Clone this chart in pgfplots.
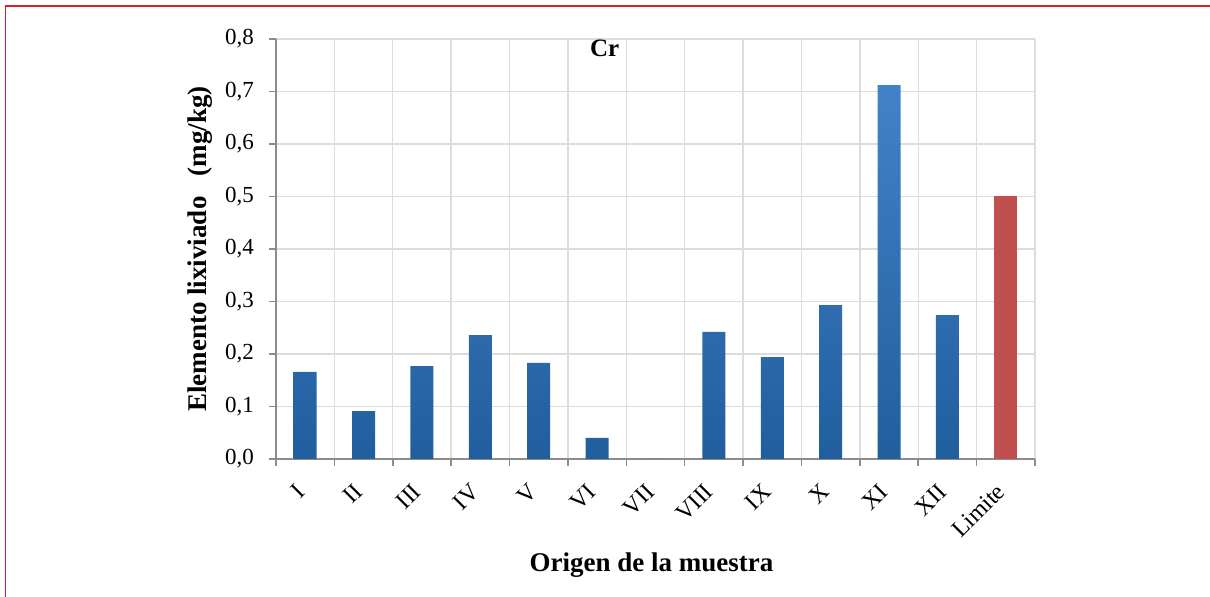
\documentclass[border=0pt]{standalone}
\usepackage{pgfplots}
\pgfplotsset{compat=1.18}
\usepackage{fontspec}
\setmainfont{Liberation Serif}

\definecolor{barblueTop}{HTML}{4282C8}
\definecolor{barblueBot}{HTML}{215E9E}
\definecolor{limitred}{HTML}{C0504D}
\definecolor{axisgray}{HTML}{8C8C8C}
\definecolor{gridgray}{HTML}{DCDCDC}
\definecolor{framered}{HTML}{D7202A}

\begin{document}
\begin{tikzpicture}
    % page = 1210x597 px at 0.5pt per px
    \useasboundingbox (0,0) rectangle (605pt,298.5pt);
    \draw[framered, line width=0.8pt] (2.8pt,0) -- (2.8pt,295.4pt) -- (605pt,295.4pt);

	\begin{axis}[
		at={(138pt,69pt)}, anchor=south west,
		scale only axis, width=379.5pt, height=210pt,
		ybar, bar width=11.5pt, bar shift=0pt,
		xmin=-0.5, xmax=12.5, ymin=0, ymax=0.8,
		axis x line=bottom, axis y line=left,
		axis line style={axisgray, line width=0.8pt, -},
		xtick={0,...,12},
		xticklabels={I,II,III,IV,V,VI,VII,VIII,IX,X,XI,XII,Limite},
		minor xtick={-0.5,0.5,...,12.5},
		major x tick style={draw=none},
		minor x tick style={axisgray, line width=0.8pt},
		minor tick length=3.5pt,
		ytick={0,0.1,...,0.8},
		major tick length=3.5pt,
		y tick style={axisgray, line width=0.8pt},
		tick align=outside,
		ymajorgrids, xminorgrids,
		grid style={gridgray, line width=0.7pt},
		x tick label style={rotate=45, anchor=north east, font=\fontsize{12}{14}\selectfont, yshift=1.5pt, xshift=-6pt},
		y tick label style={font=\fontsize{11.5}{13}\selectfont, xshift=-4pt},
		yticklabel style={/pgf/number format/.cd, use comma, fixed, fixed zerofill, precision=1, assume math mode=true},
		xlabel={\textbf{Origen de la muestra}},
		ylabel={\textbf{Elemento lixiviado\ \ \ (mg/kg)}},
		label style={font=\fontsize{13.5}{15}\selectfont},
		xlabel style={at={(rel axis cs:0.5,0)}, anchor=center, yshift=-53pt, xshift=-2pt},
		ylabel style={at={(rel axis cs:0,0.5)}, anchor=center, yshift=38pt},
		title={\textbf{Cr}}, title style={at={(rel axis cs:0.433,0.985)}, anchor=north, font=\fontsize{12.5}{14}\selectfont},
	]
    % samples I..XII
    \addplot[draw=none, top color=barblueTop, bottom color=barblueBot] coordinates{
        (0, 0.166)
        (1, 0.091)
        (2, 0.177)
        (3, 0.236)
        (4, 0.183)
        (5, 0.040)
        (6, 0.000)
        (7, 0.242)
        (8, 0.194)
        (9, 0.293)
        (10, 0.712)
        (11, 0.274)
    };
    % limit
    \addplot[draw=none, fill=limitred] coordinates{
        (12, 0.5)
    };
    \end{axis}
\end{tikzpicture}
\end{document}
